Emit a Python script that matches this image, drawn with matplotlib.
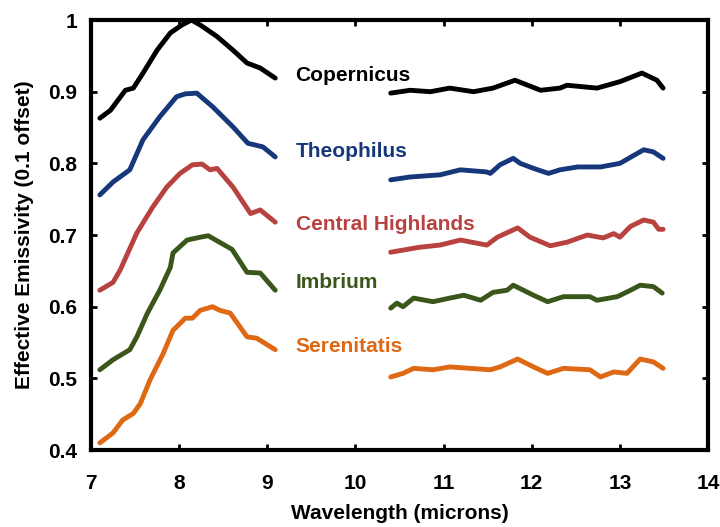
import matplotlib
matplotlib.use("Agg")
import matplotlib.pyplot as plt
from matplotlib.ticker import FuncFormatter

plt.rcParams['font.family'] = ['Liberation Sans', 'DejaVu Sans']
plt.rcParams['font.weight'] = 'bold'

# Spectra: (x, y) per segment, short band and long band
names = ["Copernicus", "Theophilus", "Central Highlands", "Imbrium", "Serenitatis"]
colors = ["#000000", "#16377a", "#b8423f", "#3a561b", "#de6813"]
label_y = [0.923, 0.817, 0.715, 0.634, 0.544]

cop_x1 = [7.10, 7.22, 7.39, 7.48, 7.59, 7.75, 7.90, 8.03, 8.14, 8.24, 8.43, 8.61, 8.77, 8.92, 9.09]
cop_y1 = [0.863, 0.874, 0.902, 0.905, 0.926, 0.958, 0.982, 0.993, 1.000, 0.993, 0.977, 0.958, 0.940, 0.933, 0.919]
cop_x2 = [10.40, 10.62, 10.85, 11.07, 11.34, 11.56, 11.81, 12.10, 12.32, 12.40, 12.74, 13.00, 13.25, 13.42, 13.49]
cop_y2 = [0.898, 0.902, 0.900, 0.905, 0.900, 0.905, 0.916, 0.902, 0.905, 0.909, 0.905, 0.914, 0.926, 0.916, 0.905]

the_x1 = [7.10, 7.25, 7.44, 7.59, 7.78, 7.97, 8.07, 8.20, 8.38, 8.61, 8.78, 8.95, 9.09]
the_y1 = [0.756, 0.774, 0.791, 0.833, 0.865, 0.893, 0.897, 0.898, 0.879, 0.851, 0.828, 0.823, 0.809]
the_x2 = [10.40, 10.62, 10.96, 11.19, 11.49, 11.53, 11.64, 11.79, 11.87, 12.02, 12.19, 12.32, 12.52, 12.78, 13.00, 13.27, 13.38, 13.49]
the_y2 = [0.777, 0.781, 0.784, 0.791, 0.788, 0.786, 0.798, 0.807, 0.800, 0.793, 0.786, 0.791, 0.795, 0.795, 0.800, 0.819, 0.816, 0.807]

cen_x1 = [7.10, 7.25, 7.33, 7.52, 7.70, 7.86, 8.01, 8.15, 8.26, 8.35, 8.43, 8.61, 8.81, 8.92, 9.09]
cen_y1 = [0.623, 0.634, 0.651, 0.703, 0.739, 0.767, 0.786, 0.798, 0.799, 0.791, 0.793, 0.767, 0.730, 0.735, 0.718]
cen_x2 = [10.40, 10.54, 10.73, 10.96, 11.19, 11.49, 11.61, 11.84, 11.98, 12.21, 12.40, 12.63, 12.81, 12.93, 13.00, 13.12, 13.27, 13.38, 13.44, 13.49]
cen_y2 = [0.676, 0.679, 0.683, 0.686, 0.693, 0.686, 0.697, 0.710, 0.697, 0.685, 0.690, 0.700, 0.696, 0.702, 0.697, 0.712, 0.721, 0.718, 0.708, 0.708]

imb_x1 = [7.10, 7.25, 7.44, 7.52, 7.64, 7.78, 7.90, 7.93, 8.09, 8.24, 8.33, 8.60, 8.77, 8.92, 9.09]
imb_y1 = [0.512, 0.526, 0.540, 0.558, 0.591, 0.623, 0.655, 0.675, 0.693, 0.697, 0.699, 0.680, 0.648, 0.647, 0.623]
imb_x2 = [10.40, 10.47, 10.54, 10.66, 10.88, 11.07, 11.23, 11.42, 11.56, 11.72, 11.79, 12.02, 12.18, 12.36, 12.66, 12.74, 12.97, 13.12, 13.23, 13.38, 13.48]
imb_y2 = [0.598, 0.605, 0.600, 0.612, 0.607, 0.612, 0.616, 0.609, 0.620, 0.623, 0.630, 0.616, 0.607, 0.614, 0.614, 0.609, 0.614, 0.623, 0.630, 0.628, 0.619]

ser_x1 = [7.10, 7.25, 7.36, 7.48, 7.56, 7.67, 7.82, 7.93, 8.07, 8.15, 8.24, 8.38, 8.46, 8.58, 8.77, 8.88, 9.09]
ser_y1 = [0.410, 0.424, 0.442, 0.451, 0.465, 0.498, 0.535, 0.567, 0.584, 0.584, 0.595, 0.600, 0.595, 0.591, 0.558, 0.556, 0.540]
ser_x2 = [10.40, 10.54, 10.66, 10.88, 11.07, 11.30, 11.53, 11.64, 11.84, 12.02, 12.18, 12.36, 12.66, 12.78, 12.93, 13.08, 13.23, 13.38, 13.49]
ser_y2 = [0.502, 0.507, 0.514, 0.512, 0.516, 0.514, 0.512, 0.516, 0.527, 0.516, 0.507, 0.514, 0.512, 0.502, 0.509, 0.507, 0.527, 0.523, 0.514]

spectra = [
    (cop_x1, cop_y1, cop_x2, cop_y2),
    (the_x1, the_y1, the_x2, the_y2),
    (cen_x1, cen_y1, cen_x2, cen_y2),
    (imb_x1, imb_y1, imb_x2, imb_y2),
    (ser_x1, ser_y1, ser_x2, ser_y2),
]

fig = plt.figure(figsize=(7.2, 5.27), dpi=100)
ax = fig.add_axes([0.1264, 0.146, 0.857, 0.816])

for (x1, y1, x2, y2), c, name, ly in zip(spectra, colors, names, label_y):
    ax.plot(x1, y1, color=c, lw=3.5, solid_capstyle='round', solid_joinstyle='round')
    ax.plot(x2, y2, color=c, lw=3.5, solid_capstyle='round', solid_joinstyle='round')
    ax.text(9.32, ly, name, color=c, fontsize=15, fontweight='bold', va='center', ha='left')

ax.set_xlim(7, 14)
ax.set_ylim(0.4, 1.0)
ax.set_xticks(range(7, 15))
ax.set_yticks([0.4, 0.5, 0.6, 0.7, 0.8, 0.9, 1.0])
ax.yaxis.set_major_formatter(FuncFormatter(lambda v, p: "1" if abs(v - 1) < 1e-9 else f"{v:.1f}"))

for s in ax.spines.values():
    s.set_linewidth(3)
ax.tick_params(direction='in', length=4, width=2, top=True, right=True, labelsize=15)
ax.tick_params(axis='x', pad=17)
ax.tick_params(axis='y', pad=10)
for lab in ax.get_xticklabels() + ax.get_yticklabels():
    lab.set_fontweight('bold')

ax.set_xlabel("Wavelength (microns)", fontsize=15, fontweight='bold', labelpad=8)
ax.set_ylabel("Effective Emissivity (0.1 offset)", fontsize=15, fontweight='bold', labelpad=10)

fig.savefig("out.png", dpi=100)
